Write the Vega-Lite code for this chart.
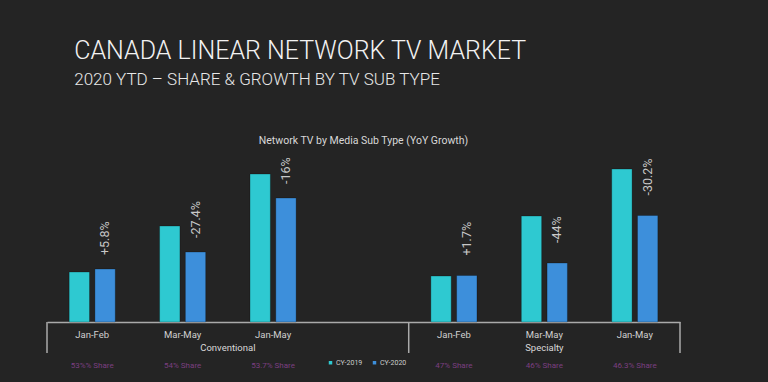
{
  "$schema": "https://vega.github.io/schema/vega-lite/v6.json",
  "background": "#242424",
  "padding": {"left": 46, "top": 38, "right": 89, "bottom": 15},
  "title": {
    "text": "CANADA LINEAR NETWORK TV MARKET",
    "subtitle": "2020 YTD – SHARE & GROWTH BY TV SUB TYPE",
    "anchor": "start",
    "dx": 28,
    "font": "Roboto",
    "fontSize": 25,
    "fontWeight": 300,
    "color": "#f2f2f2",
    "subtitleFont": "Roboto",
    "subtitleFontSize": 17,
    "subtitleFontWeight": 300,
    "subtitleColor": "#e8e8e8",
    "subtitlePadding": 8,
    "offset": 48
  },
  "config": {"view": {"stroke": null}, "font": "Roboto"},
  "datasets": {
    "bars": [
      {"key": "Conventional|Jan-Feb", "group": "Conventional", "series": "CY-2019", "value": 50},
      {"key": "Conventional|Jan-Feb", "group": "Conventional", "series": "CY-2020", "value": 53, "growth": "+5.8%", "share": "53%% Share"},
      {"key": "Conventional|Mar-May", "group": "Conventional", "series": "CY-2019", "value": 96},
      {"key": "Conventional|Mar-May", "group": "Conventional", "series": "CY-2020", "value": 70, "growth": "-27.4%", "share": "54% Share"},
      {"key": "Conventional|Jan-May", "group": "Conventional", "series": "CY-2019", "value": 148},
      {"key": "Conventional|Jan-May", "group": "Conventional", "series": "CY-2020", "value": 124, "growth": "-16%", "share": "53.7% Share"},
      {"key": "Specialty|Jan-Feb", "group": "Specialty", "series": "CY-2019", "value": 46},
      {"key": "Specialty|Jan-Feb", "group": "Specialty", "series": "CY-2020", "value": 46.5, "growth": "+1.7%", "share": "47% Share"},
      {"key": "Specialty|Mar-May", "group": "Specialty", "series": "CY-2019", "value": 106},
      {"key": "Specialty|Mar-May", "group": "Specialty", "series": "CY-2020", "value": 59, "growth": "-44%", "share": "46% Share"},
      {"key": "Specialty|Jan-May", "group": "Specialty", "series": "CY-2019", "value": 153},
      {"key": "Specialty|Jan-May", "group": "Specialty", "series": "CY-2020", "value": 106.5, "growth": "-30.2%", "share": "46.3% Share"}
    ]
  },
  "vconcat": [
    {
      "title": {"text": "Network TV by Media Sub Type (YoY Growth)", "anchor": "middle", "fontSize": 10.5, "fontWeight": "normal", "color": "#d8d8d8", "offset": 6},
      "width": 633,
      "height": 170,
      "data": {"name": "bars"},
      "encoding": {
        "x": {
          "field": "key",
          "type": "nominal",
          "scale": {"domain": ["Conventional|Jan-Feb", "Conventional|Mar-May", "Conventional|Jan-May", "Conventional|", "Specialty|Jan-Feb", "Specialty|Mar-May", "Specialty|Jan-May"], "paddingInner": 0, "paddingOuter": 0},
          "axis": {"title": null, "labelExpr": "split(datum.value, '|')[1]", "ticks": false, "labelPadding": 7, "labelFontSize": 9.5, "labelColor": "#d0d0d0", "domainColor": "#aaaaaa", "domainWidth": 1.5, "labelAngle": 0, "grid": false}
        }
      },
      "layer": [
        {
          "mark": {"type": "bar", "stroke": "#000000", "strokeOpacity": 0.25, "strokeWidth": 1},
          "encoding": {
            "xOffset": {"field": "series", "scale": {"paddingInner": 0.21, "paddingOuter": 0.86}},
            "y": {"field": "value", "type": "quantitative", "scale": {"domain": [0, 170]}, "axis": null},
            "color": {
              "field": "series",
              "type": "nominal",
              "scale": {"domain": ["CY-2019", "CY-2020"], "range": ["#2ec9d1", "#3d8fdb"]},
              "legend": {"orient": "none", "legendX": 280, "legendY": 207, "direction": "horizontal", "title": null, "symbolType": "square", "symbolSize": 12, "labelFontSize": 7, "labelColor": "#cccccc", "labelOffset": 2, "columnPadding": 8, "padding": 0, "symbolStrokeWidth": 0}
            }
          }
        },
        {
          "transform": [{"filter": "datum.series === 'CY-2020' && datum.group === 'Conventional'"}],
          "mark": {"type": "text", "angle": 270, "align": "left", "baseline": "middle", "dx": 14, "fontSize": 12.5, "color": "#c8c8c8"},
          "encoding": {
            "xOffset": {"field": "series", "scale": {"paddingInner": 0.21, "paddingOuter": 0.86}},
            "y": {"field": "value", "type": "quantitative", "scale": {"domain": [0, 170]}},
            "text": {"field": "growth"}
          }
        },
        {
          "transform": [{"filter": "datum.series === 'CY-2020' && datum.group === 'Specialty'"}],
          "mark": {"type": "text", "angle": 270, "align": "left", "baseline": "middle", "dx": 20, "fontSize": 12.5, "color": "#c8c8c8"},
          "encoding": {
            "xOffset": {"field": "series", "scale": {"paddingInner": 0.21, "paddingOuter": 0.86}},
            "y": {"field": "value", "type": "quantitative", "scale": {"domain": [0, 170]}},
            "text": {"field": "growth"}
          }
        },
        {
          "transform": [{"filter": "datum.series === 'CY-2020'"}],
          "mark": {"type": "text", "baseline": "middle", "fontSize": 8, "color": "#7b3f80"},
          "encoding": {
            "y": {"datum": -44, "type": "quantitative", "scale": {"domain": [0, 170]}},
            "text": {"field": "share"}
          }
        },
        {
          "data": {"values": [{"key": "Conventional|Jan-May", "label": "Conventional"}]},
          "mark": {"type": "text", "baseline": "middle", "fontSize": 9.5, "color": "#d8d8d8"},
          "encoding": {
            "x": {"field": "key", "type": "nominal", "bandPosition": 0},
            "y": {"datum": -26, "type": "quantitative", "scale": {"domain": [0, 170]}},
            "text": {"field": "label"}
          }
        },
        {
          "data": {"values": [{"key": "Specialty|Mar-May", "label": "Specialty"}]},
          "mark": {"type": "text", "baseline": "middle", "fontSize": 9.5, "color": "#d8d8d8"},
          "encoding": {
            "y": {"datum": -26, "type": "quantitative", "scale": {"domain": [0, 170]}},
            "text": {"field": "label"}
          }
        },
        {
          "data": {"values": [{"key": "Conventional|Jan-Feb"}, {"key": "Specialty|Jan-Feb"}]},
          "mark": {"type": "rule", "color": "#aaaaaa", "strokeWidth": 1.5},
          "encoding": {
            "x": {"field": "key", "type": "nominal", "bandPosition": 0},
            "y": {"datum": 0, "type": "quantitative", "scale": {"domain": [0, 170]}},
            "y2": {"datum": -31}
          }
        },
        {
          "data": {"values": [{"key": "Specialty|Jan-May"}]},
          "mark": {"type": "rule", "color": "#aaaaaa", "strokeWidth": 1.5},
          "encoding": {
            "x": {"field": "key", "type": "nominal", "bandPosition": 1},
            "y": {"datum": 0, "type": "quantitative", "scale": {"domain": [0, 170]}},
            "y2": {"datum": -31}
          }
        }
      ]
    }
  ]
}
